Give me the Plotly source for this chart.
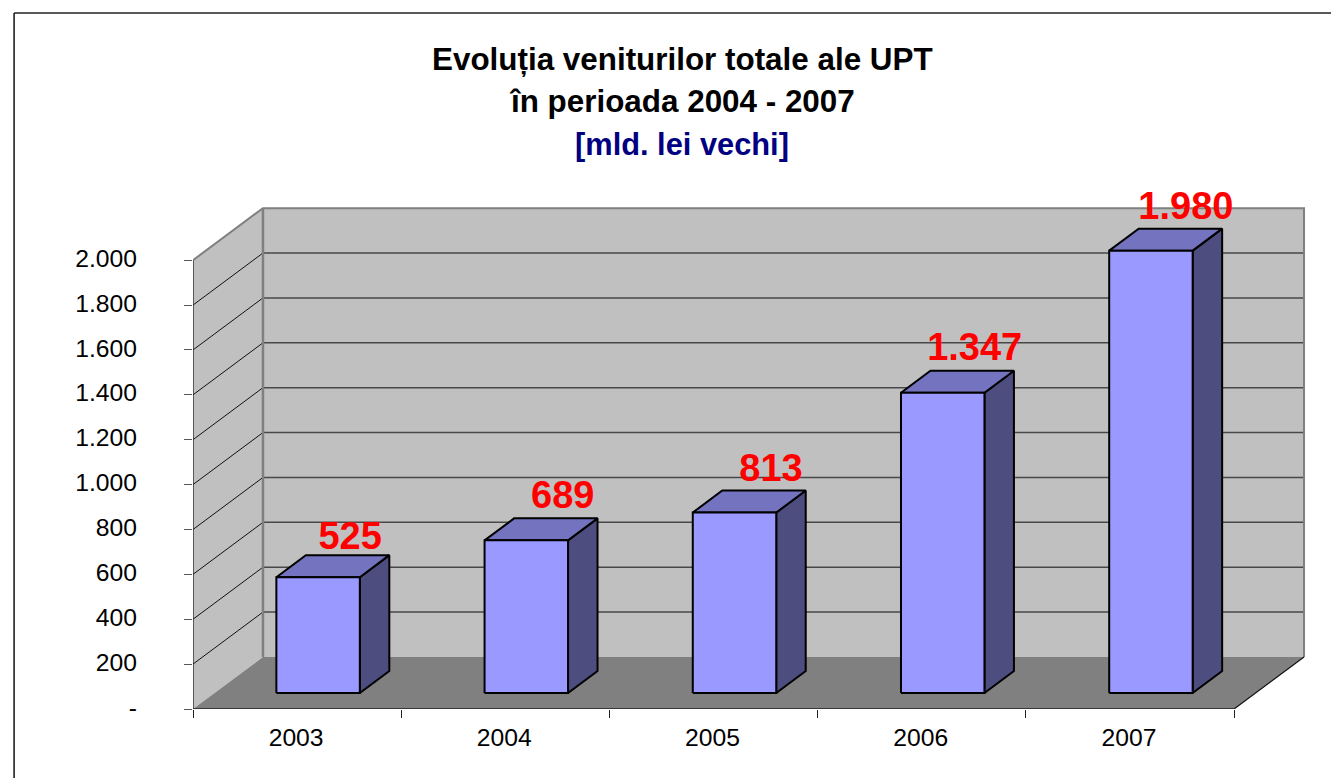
import plotly.graph_objects as go

# ---- data ----
categories = ["2003", "2004", "2005", "2006", "2007"]
values = [525, 689, 813, 1347, 1980]
value_labels = ["525", "689", "813", "1.347", "1.980"]
y_ticks = [0, 200, 400, 600, 800, 1000, 1200, 1400, 1600, 1800, 2000]
y_tick_labels = ["-", "200", "400", "600", "800", "1.000", "1.200", "1.400", "1.600", "1.800", "2.000"]
title_lines = ["Evoluția veniturilor totale ale UPT", "în perioada 2004 - 2007", "[mld. lei vechi]"]

# ---- layout scale (pixels per data unit) ----
W, H = 1331, 778
LEFT, BOTTOM, TOP = 192.5, 708.7, 100
PX_X = 208.3    # px per category
PX_Y = 0.2243   # px per value unit
n = len(categories)
WALL_DX = 70 / PX_X
WALL_DY = 52 / PX_Y
BAR_SHIFT = 21 / PX_X
BAR_W = 83.5 / PX_X
BAR_DX = 29.5 / PX_X
BAR_DY = 22 / PX_Y
BAR_FOOT = 16 / PX_Y
BAR_LIFT = 14 / PX_Y
LBL_DX = 32 / PX_X
LBL_DY = 42 / PX_Y
# the original's data labels were placed by hand: per-label pixel nudges
LBL_NUDGE_X = [0, 4.5, 4.5, 0, 3]
LBL_NUDGE_Y = [-4, 0, -1, 0, -1]
AX_TOP = 2000

C_WALL, C_FLOOR, C_EDGE = "#C0C0C0", "#808080", "#808080"
C_FRONT, C_TOP, C_SIDE = "#9999FF", "#7373BF", "#4D4D80"

fig = go.Figure()


def poly(xs, ys, fill, line=None, width=0):
    fig.add_trace(go.Scatter(
        x=xs, y=ys, mode="lines", fill="toself", fillcolor=fill,
        line=dict(color=line or fill, width=width), hoverinfo="skip",
        showlegend=False, cliponaxis=False))


def seg(xs, ys, color, width):
    fig.add_trace(go.Scatter(
        x=xs, y=ys, mode="lines", line=dict(color=color, width=width),
        hoverinfo="skip", showlegend=False, cliponaxis=False))


# walls and floor
poly([0, WALL_DX, WALL_DX, 0, 0], [0, WALL_DY, AX_TOP + WALL_DY, AX_TOP, 0], C_WALL)
poly([WALL_DX, n + WALL_DX, n + WALL_DX, WALL_DX, WALL_DX],
     [WALL_DY, WALL_DY, AX_TOP + WALL_DY, AX_TOP + WALL_DY, WALL_DY], C_WALL)
poly([0, n, n + WALL_DX, WALL_DX, 0], [0, 0, WALL_DY, WALL_DY, 0], C_FLOOR)

# grid
for t in y_ticks[1:-1]:
    seg([0, WALL_DX], [t, t + WALL_DY], "#111111", 1)
    seg([WALL_DX, n + WALL_DX], [t + WALL_DY, t + WALL_DY], "#484848", 1.5)

# wall edges
seg([0, WALL_DX, n + WALL_DX, n + WALL_DX],
    [AX_TOP, AX_TOP + WALL_DY, AX_TOP + WALL_DY, WALL_DY], C_EDGE, 2)
seg([WALL_DX, WALL_DX], [WALL_DY, AX_TOP + WALL_DY], C_EDGE, 2.5)
seg([n, n + WALL_DX], [0, WALL_DY], "#111111", 1.2)

# axis lines
seg([0, n], [0, 0], "#222222", 1.3)
seg([0, 0], [0, AX_TOP], "#222222", 1.3)

# bars
for i, v in enumerate(values):
    x0 = i + 0.5 + BAR_SHIFT - BAR_W / 2
    x1 = x0 + BAR_W
    y0 = BAR_FOOT
    y1 = v + BAR_LIFT
    poly([x1, x1 + BAR_DX, x1 + BAR_DX, x1, x1],
         [y0, y0 + BAR_DY, y1 + BAR_DY, y1, y0], C_SIDE, "black", 2)
    poly([x0, x1, x1 + BAR_DX, x0 + BAR_DX, x0],
         [y1, y1, y1 + BAR_DY, y1 + BAR_DY, y1], C_TOP, "black", 2)
    poly([x0, x1, x1, x0, x0], [y0, y0, y1, y1, y0], C_FRONT, "black", 2)

# value labels
fig.add_trace(go.Scatter(
    x=[i + 0.5 + BAR_SHIFT + LBL_DX + LBL_NUDGE_X[i] / PX_X for i in range(n)],
    y=[v + BAR_LIFT + LBL_DY + LBL_NUDGE_Y[i] / PX_Y for i, v in enumerate(values)],
    mode="text", text=value_labels, textposition="middle center",
    textfont=dict(family="Liberation Sans", size=38, color="#FF0000", weight="bold"),
    hoverinfo="skip", showlegend=False, cliponaxis=False))

fig.update_xaxes(
    range=[0, (W - LEFT) / PX_X],
    tickmode="array", tickvals=[i + 0.5 for i in range(n)], ticktext=categories,
    ticks="", showgrid=False, zeroline=False, showline=False,
    ticklabelstandoff=11, ticklabelshift=-1,
    tickfont=dict(family="Liberation Sans", size=24.7, color="black"),
    minor=dict(tickmode="array", tickvals=list(range(n + 1)), ticks="outside",
               ticklen=8, tickcolor="#222222", tickwidth=1.3, showgrid=False),
)
fig.update_yaxes(
    range=[0, (BOTTOM - TOP) / PX_Y],
    tickmode="array", tickvals=y_ticks, ticktext=y_tick_labels,
    ticks="outside", ticklen=8, tickcolor="#555555", tickwidth=1.3,
    showgrid=False, zeroline=False, showline=False,
    ticklabelstandoff=42, ticklabelshift=-2,
    tickfont=dict(family="Liberation Sans", size=24.7, color="black"),
)

# title lines
TITLE_X = (682 - LEFT) / (W - LEFT)
title_colors = ["black", "black", "#000080"]
title_ys = [60, 101, 144]
title_sizes = [31.4, 31.4, 30.8]
for txt, col, ypx, sz in zip(title_lines, title_colors, title_ys, title_sizes):
    fig.add_annotation(
        text=txt, xref="paper", yref="paper", showarrow=False,
        x=TITLE_X, xanchor="center",
        y=(BOTTOM - ypx) / (BOTTOM - TOP), yanchor="middle",
        font=dict(family="Liberation Sans", size=sz, color=col, weight="bold"))

# chart frame (top and left rules)
frame_x = (13.5 - LEFT) / (W - LEFT)
frame_y = (BOTTOM - 13) / (BOTTOM - TOP)
frame_bottom = (BOTTOM - H) / (BOTTOM - TOP)
fig.add_shape(type="line", xref="paper", yref="paper", x0=frame_x, x1=1, y0=frame_y, y1=frame_y,
              line=dict(color="#222222", width=1.5))
fig.add_shape(type="line", xref="paper", yref="paper", x0=frame_x, x1=frame_x, y0=frame_y, y1=frame_bottom,
              line=dict(color="#111111", width=1.5))

fig.update_layout(
    width=W, height=H, autosize=False,
    margin=dict(l=LEFT, r=0, t=TOP, b=H - BOTTOM, pad=0),
    paper_bgcolor="white", plot_bgcolor="white", showlegend=False,
)

fig.write_html("out.html", config={"displayModeBar": False},
               post_script="document.body.style.margin='0';document.body.style.overflow='hidden';")
